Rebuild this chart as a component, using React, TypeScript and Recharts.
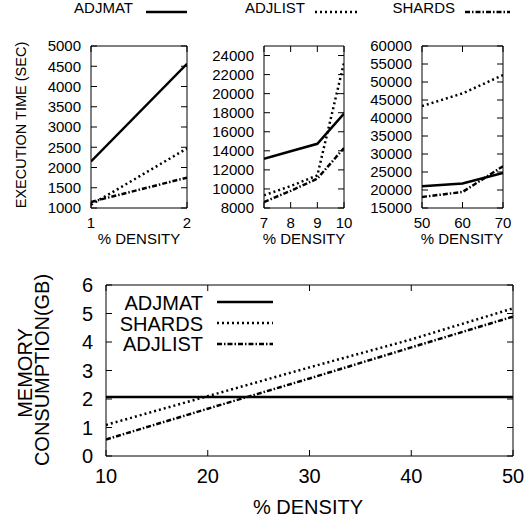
import { LineChart, Line, XAxis, YAxis, ReferenceArea } from "recharts"

const FONT = "'Liberation Sans', Arial, Helvetica, sans-serif"

// execution time, density 1-2 %
const p1Density = [1, 2]
const p1AdjMat = [2150, 4560]
const p1AdjList = [1080, 2470]
const p1Shards = [1150, 1750]
const p1YTicks = [1000, 1500, 2000, 2500, 3000, 3500, 4000, 4500, 5000]

// execution time, density 7-10 %
const p2Density = [7, 8, 9, 10]
const p2AdjMat = [13170, 13950, 14740, 17900]
const p2AdjList = [9330, 10300, 11420, 23250]
const p2Shards = [8630, 9800, 11080, 14300]
const p2YTicks = [8000, 10000, 12000, 14000, 16000, 18000, 20000, 22000, 24000]

// execution time, density 50-70 %
const p3Density = [50, 60, 70]
const p3AdjMat = [21040, 21790, 24740]
const p3AdjList = [43300, 46830, 51920]
const p3Shards = [18060, 19450, 26600]
const p3YTicks = [15000, 20000, 25000, 30000, 35000, 40000, 45000, 50000, 55000, 60000]

// memory consumption
const memDensity = [10, 20, 30, 40, 50]
const memAdjMat = [2.07, 2.07, 2.07, 2.07, 2.07]
const memShards = [1.09, 2.1, 3.11, 4.09, 5.18]
const memAdjList = [0.58, 1.66, 2.72, 3.81, 4.89]
const memYTicks = [0, 1, 2, 3, 4, 5, 6]

const SOLID = undefined
const DOTTED = "2 3"
const DASHDOT = "5 2 1.5 2"

type Series = { key: string; values: number[]; dash?: string }

type PanelProps = {
  left: number
  top: number
  width: number
  height: number
  xs: number[]
  series: Series[]
  xDomain: [number, number]
  yDomain: [number, number]
  xTicks: number[]
  yTicks: number[]
  fontSize: number
  yGap: number
  xDrop: number
}

const PAD = 60
const TICK = 6

function Panel(p: PanelProps) {
  const data = p.xs.map((x, i) => {
    const row: any = { x }
    p.series.forEach((s) => (row[s.key] = s.values[i]))
    return row
  })
  const w = p.width
  const h = p.height

  const xTick = (props: any) => {
    const { x, y, payload } = props
    return (
      <g>
        <line x1={x} x2={x} y1={y} y2={y - TICK} stroke="#000" />
        <line x1={x} x2={x} y1={y - h} y2={y - h + TICK} stroke="#000" />
        <text x={x} y={y + p.xDrop} textAnchor="middle" fontSize={p.fontSize} fontFamily={FONT} fill="#000">
          {payload.value}
        </text>
      </g>
    )
  }

  const yTick = (props: any) => {
    const { x, y, payload } = props
    return (
      <g>
        <line x1={x} x2={x + TICK} y1={y} y2={y} stroke="#000" />
        <line x1={x + w} x2={x + w - TICK} y1={y} y2={y} stroke="#000" />
        <text x={x - p.yGap} y={y} dy="0.36em" textAnchor="end" fontSize={p.fontSize} fontFamily={FONT} fill="#000">
          {payload.value}
        </text>
      </g>
    )
  }

  return (
    <div style={{ position: "absolute", left: p.left - PAD, top: p.top - PAD }}>
      <LineChart
        width={w + 2 * PAD}
        height={h + 2 * PAD}
        data={data}
        margin={{ top: PAD, right: PAD, bottom: 0, left: 0 }}
      >
        <XAxis
          dataKey="x"
          type="number"
          domain={p.xDomain}
          ticks={p.xTicks}
          interval={0}
          height={PAD}
          tickSize={0}
          tickMargin={0}
          tickLine={false}
          axisLine={false}
          tick={xTick}
          allowDataOverflow
        />
        <YAxis
          type="number"
          domain={p.yDomain}
          ticks={p.yTicks}
          interval={0}
          width={PAD}
          tickSize={0}
          tickMargin={0}
          tickLine={false}
          axisLine={false}
          tick={yTick}
          allowDataOverflow
        />
        <ReferenceArea
          x1={p.xDomain[0]}
          x2={p.xDomain[1]}
          y1={p.yDomain[0]}
          y2={p.yDomain[1]}
          fill="none"
          fillOpacity={0}
          stroke="#000"
          strokeWidth={1}
        />
        {p.series.map((s) => (
          <Line
            key={s.key}
            type="linear"
            dataKey={s.key}
            stroke="#000"
            strokeWidth={2.5}
            strokeDasharray={s.dash}
            dot={false}
            activeDot={false}
            isAnimationActive={false}
          />
        ))}
      </LineChart>
    </div>
  )
}

const topCommon = { top: 46, height: 162, fontSize: 15, yGap: 10, xDrop: 20 }

export default function App() {
  return (
    <div
      style={{
        position: "absolute",
        left: 0,
        top: 0,
        width: 524,
        height: 520,
        overflow: "hidden",
        background: "#fff",
        fontFamily: FONT,
      }}
    >
      <Panel
        {...topCommon}
        left={91}
        width={96}
        xs={p1Density}
        series={[
          { key: "ADJMAT", values: p1AdjMat, dash: SOLID },
          { key: "ADJLIST", values: p1AdjList, dash: DOTTED },
          { key: "SHARDS", values: p1Shards, dash: DASHDOT },
        ]}
        xDomain={[1, 2]}
        yDomain={[1000, 5000]}
        xTicks={p1Density}
        yTicks={p1YTicks}
      />
      <Panel
        {...topCommon}
        left={264}
        width={80}
        xs={p2Density}
        series={[
          { key: "ADJMAT", values: p2AdjMat, dash: SOLID },
          { key: "ADJLIST", values: p2AdjList, dash: DOTTED },
          { key: "SHARDS", values: p2Shards, dash: DASHDOT },
        ]}
        xDomain={[7, 10]}
        yDomain={[8000, 25000]}
        xTicks={p2Density}
        yTicks={p2YTicks}
      />
      <Panel
        {...topCommon}
        left={422}
        width={81}
        xs={p3Density}
        series={[
          { key: "ADJMAT", values: p3AdjMat, dash: SOLID },
          { key: "ADJLIST", values: p3AdjList, dash: DOTTED },
          { key: "SHARDS", values: p3Shards, dash: DASHDOT },
        ]}
        xDomain={[50, 70]}
        yDomain={[15000, 60000]}
        xTicks={p3Density}
        yTicks={p3YTicks}
      />
      <Panel
        left={106}
        top={285}
        width={407}
        height={171}
        fontSize={20}
        yGap={13}
        xDrop={27}
        xs={memDensity}
        series={[
          { key: "ADJMAT", values: memAdjMat, dash: SOLID },
          { key: "SHARDS", values: memShards, dash: DOTTED },
          { key: "ADJLIST", values: memAdjList, dash: DASHDOT },
        ]}
        xDomain={[10, 50]}
        yDomain={[0, 6]}
        xTicks={memDensity}
        yTicks={memYTicks}
      />

      <svg
        width={524}
        height={520}
        style={{ position: "absolute", left: 0, top: 0, pointerEvents: "none" }}
        fontFamily={FONT}
        fill="#000"
      >
        {/* shared key above the three panels */}
        <g fontSize={15}>
          <text x={133} y={13} textAnchor="end">ADJMAT</text>
          <line x1={146} x2={187} y1={12} y2={12} stroke="#000" strokeWidth={2.5} />
          <text x={305} y={13} textAnchor="end">ADJLIST</text>
          <line x1={315} x2={358} y1={12} y2={12} stroke="#000" strokeWidth={2.5} strokeDasharray={DOTTED} />
          <text x={455} y={13} textAnchor="end">SHARDS</text>
          <line x1={465} x2={510} y1={12} y2={12} stroke="#000" strokeWidth={2.5} strokeDasharray={DASHDOT} />
        </g>

        <g fontSize={15} textAnchor="middle">
          <text x={139} y={244}>% DENSITY</text>
          <text x={304} y={244}>% DENSITY</text>
          <text x={462} y={244}>% DENSITY</text>
          <text x={26} y={125} fontSize={14.5} transform="rotate(-90 26 125)">EXECUTION TIME (SEC)</text>
        </g>

        {/* memory chart key */}
        <g fontSize={20}>
          <text x={203} y={310} textAnchor="end">ADJMAT</text>
          <line x1={217} x2={273} y1={302} y2={302} stroke="#000" strokeWidth={2.5} />
          <text x={203} y={331} textAnchor="end">SHARDS</text>
          <line x1={217} x2={273} y1={323} y2={323} stroke="#000" strokeWidth={2.5} strokeDasharray={DOTTED} />
          <text x={203} y={351} textAnchor="end">ADJLIST</text>
          <line x1={217} x2={273} y1={344} y2={344} stroke="#000" strokeWidth={2.5} strokeDasharray={DASHDOT} />
        </g>

        <g fontSize={20} textAnchor="middle">
          <text x={308} y={514}>% DENSITY</text>
          <text x={32} y={373} transform="rotate(-90 32 373)">MEMORY</text>
          <text x={49} y={370} transform="rotate(-90 49 370)">CONSUMPTION(GB)</text>
        </g>
      </svg>
    </div>
  )
}
